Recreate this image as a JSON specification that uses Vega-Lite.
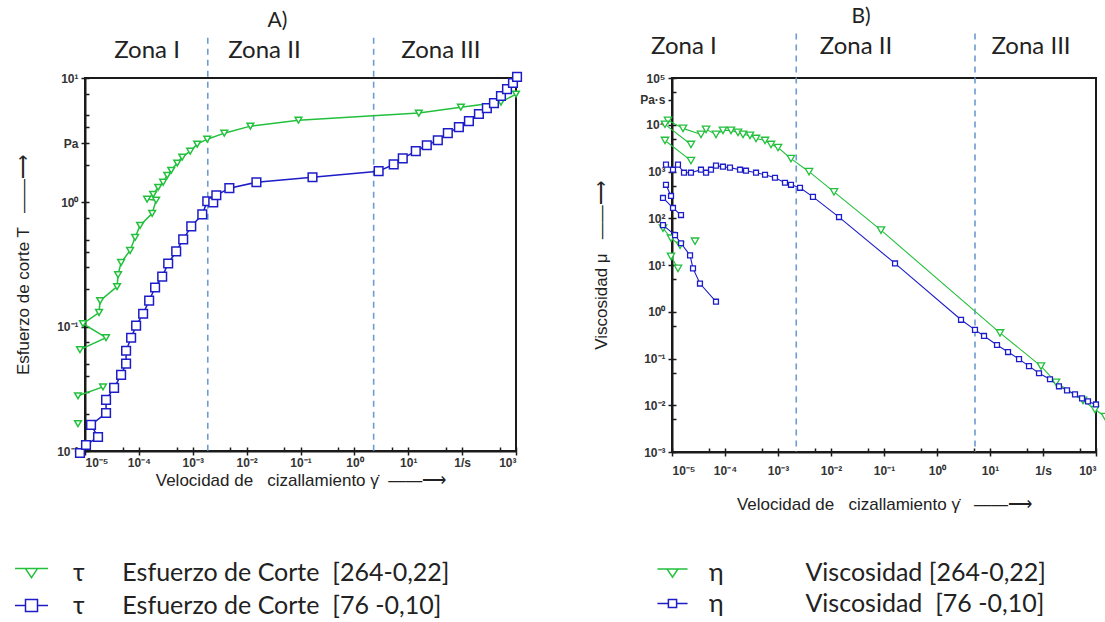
{
  "$schema": "https://vega.github.io/schema/vega-lite/v6.json",
  "padding": {"left": 13, "top": 4, "right": 4, "bottom": 2},
  "background": "white",
  "spacing": 65,
  "config": {
    "view": {"stroke": "#1a1a1a", "strokeWidth": 2},
    "axis": {"grid": false, "domainColor": "#1a1a1a", "domainWidth": 2, "tickColor": "#1a1a1a", "tickWidth": 1.5, "labelFont": "Liberation Sans", "labelFontSize": 12, "labelFontWeight": "bold", "labelColor": "#333333", "titleFont": "Liberation Sans", "titleFontSize": 17, "titleFontWeight": "normal", "titleColor": "#222222"},
    "title": {"font": "Lato", "fontSize": 21, "fontWeight": "normal", "color": "#222222"},
    "legend": {"labelFont": "Lato", "labelFontSize": 25, "labelColor": "#222222", "labelLimit": 800, "title": null}
  },
  "datasets": {
    "zonesA": [{"x": 0.0019}, {"x": 2.28}],
    "zonesB": [{"x": 0.00221}, {"x": 5.21}],
    "labelsA": [{"x": 0.000142, "label": "Zona I"}, {"x": 0.0214, "label": "Zona II"}, {"x": 40.3, "label": "Zona III"}],
    "labelsB": [{"x": 0.0000168, "label": "Zona I"}, {"x": 0.0296, "label": "Zona II"}, {"x": 59.4, "label": "Zona III"}],
    "tauA": [
      {"s": "g", "r": "g0", "i": 1, "x": 7.41e-6, "y": 0.0166},
      {"s": "g", "r": "ga", "i": 2, "x": 7.41e-6, "y": 0.0278},
      {"s": "g", "r": "ga", "i": 3, "x": 2.16e-5, "y": 0.0328},
      {"s": "g", "r": "g1", "i": 4, "x": 8.07e-6, "y": 0.0653},
      {"s": "g", "r": "g1", "i": 5, "x": 2.46e-5, "y": 0.0815},
      {"s": "g", "r": "g1", "i": 6, "x": 9.18e-6, "y": 0.1057},
      {"s": "g", "r": "g1", "i": 7, "x": 1.82e-5, "y": 0.130},
      {"s": "g", "r": "g1", "i": 8, "x": 1.91e-5, "y": 0.162},
      {"s": "g", "r": "g1", "i": 9, "x": 3.94e-5, "y": 0.210},
      {"s": "g", "r": "g1", "i": 10, "x": 4.11e-5, "y": 0.262},
      {"s": "g", "r": "g1", "i": 11, "x": 4.68e-5, "y": 0.328},
      {"s": "g", "r": "g1", "i": 12, "x": 6.87e-5, "y": 0.410},
      {"s": "g", "r": "g1", "i": 13, "x": 8.51e-5, "y": 0.522},
      {"s": "g", "r": "g1", "i": 14, "x": 1.054e-4, "y": 0.653},
      {"s": "g", "r": "g1", "i": 15, "x": 1.766e-4, "y": 0.815},
      {"s": "g", "r": "g1", "i": 16, "x": 2.09e-4, "y": 1.04},
      {"s": "g", "r": "g1", "i": 17, "x": 1.42e-4, "y": 1.06},
      {"s": "g", "r": "g1", "i": 18, "x": 1.84e-4, "y": 1.16},
      {"s": "g", "r": "g1", "i": 19, "x": 2.28e-4, "y": 1.32},
      {"s": "g", "r": "g1", "i": 20, "x": 2.82e-4, "y": 1.45},
      {"s": "g", "r": "g1", "i": 21, "x": 3.36e-4, "y": 1.65},
      {"s": "g", "r": "g1", "i": 22, "x": 3.98e-4, "y": 1.81},
      {"s": "g", "r": "g1", "i": 23, "x": 5.15e-4, "y": 2.07},
      {"s": "g", "r": "g1", "i": 24, "x": 6.38e-4, "y": 2.31},
      {"s": "g", "r": "g1", "i": 25, "x": 8.97e-4, "y": 2.58},
      {"s": "g", "r": "g1", "i": 26, "x": 1.21e-3, "y": 2.94},
      {"s": "g", "r": "g1", "i": 27, "x": 1.86e-3, "y": 3.22},
      {"s": "g", "r": "g1", "i": 28, "x": 3.85e-3, "y": 3.60},
      {"s": "g", "r": "g1", "i": 29, "x": 0.01175, "y": 4.10},
      {"s": "g", "r": "g1", "i": 30, "x": 0.0918, "y": 4.58},
      {"s": "g", "r": "g1", "i": 31, "x": 15.7, "y": 5.22},
      {"s": "g", "r": "g1", "i": 32, "x": 94.8, "y": 5.83},
      {"s": "g", "r": "g1", "i": 33, "x": 526, "y": 6.40},
      {"s": "g", "r": "g1", "i": 34, "x": 1000, "y": 7.43},
      {"s": "b", "r": "b1", "i": 1, "x": 8.07e-6, "y": 0.00964},
      {"s": "b", "r": "b1", "i": 2, "x": 1.044e-5, "y": 0.01117},
      {"s": "b", "r": "b1", "i": 3, "x": 1.746e-5, "y": 0.01297},
      {"s": "b", "r": "b1", "i": 4, "x": 1.294e-5, "y": 0.0162},
      {"s": "b", "r": "b1", "i": 5, "x": 2.46e-5, "y": 0.0202},
      {"s": "b", "r": "b1", "i": 6, "x": 2.46e-5, "y": 0.0258},
      {"s": "b", "r": "b1", "i": 7, "x": 3.47e-5, "y": 0.0322},
      {"s": "b", "r": "b1", "i": 8, "x": 4.68e-5, "y": 0.041},
      {"s": "b", "r": "b1", "i": 9, "x": 5.79e-5, "y": 0.0504},
      {"s": "b", "r": "b1", "i": 10, "x": 5.79e-5, "y": 0.064},
      {"s": "b", "r": "b1", "i": 11, "x": 7.18e-5, "y": 0.0815},
      {"s": "b", "r": "b1", "i": 12, "x": 8.89e-5, "y": 0.1019},
      {"s": "b", "r": "b1", "i": 13, "x": 1.2e-4, "y": 0.127},
      {"s": "b", "r": "b1", "i": 14, "x": 1.552e-4, "y": 0.162},
      {"s": "b", "r": "b1", "i": 15, "x": 2.0e-4, "y": 0.2065},
      {"s": "b", "r": "b1", "i": 16, "x": 2.71e-4, "y": 0.253},
      {"s": "b", "r": "b1", "i": 17, "x": 3.5e-4, "y": 0.322},
      {"s": "b", "r": "b1", "i": 18, "x": 4.93e-4, "y": 0.403},
      {"s": "b", "r": "b1", "i": 19, "x": 6.65e-4, "y": 0.504},
      {"s": "b", "r": "b1", "i": 20, "x": 9.38e-4, "y": 0.64},
      {"s": "b", "r": "b1", "i": 21, "x": 1.503e-3, "y": 0.80},
      {"s": "b", "r": "b1", "i": 22, "x": 1.86e-3, "y": 1.02},
      {"s": "b", "r": "b1", "i": 23, "x": 2.4e-3, "y": 1.0},
      {"s": "b", "r": "b1", "i": 24, "x": 2.74e-3, "y": 1.14},
      {"s": "b", "r": "b1", "i": 25, "x": 4.78e-3, "y": 1.30},
      {"s": "b", "r": "b1", "i": 26, "x": 0.0152, "y": 1.45},
      {"s": "b", "r": "b1", "i": 27, "x": 0.167, "y": 1.59},
      {"s": "b", "r": "b1", "i": 28, "x": 2.82, "y": 1.78},
      {"s": "b", "r": "b1", "i": 29, "x": 5.37, "y": 2.02},
      {"s": "b", "r": "b1", "i": 30, "x": 7.91, "y": 2.26},
      {"s": "b", "r": "b1", "i": 31, "x": 13.8, "y": 2.58},
      {"s": "b", "r": "b1", "i": 32, "x": 22.1, "y": 2.88},
      {"s": "b", "r": "b1", "i": 33, "x": 35.4, "y": 3.16},
      {"s": "b", "r": "b1", "i": 34, "x": 54.3, "y": 3.60},
      {"s": "b", "r": "b1", "i": 35, "x": 87.1, "y": 4.03},
      {"s": "b", "r": "b1", "i": 36, "x": 133.7, "y": 4.50},
      {"s": "b", "r": "b1", "i": 37, "x": 205, "y": 5.13},
      {"s": "b", "r": "b1", "i": 38, "x": 288, "y": 5.73},
      {"s": "b", "r": "b1", "i": 39, "x": 390, "y": 6.28},
      {"s": "b", "r": "b1", "i": 40, "x": 526, "y": 7.16},
      {"s": "b", "r": "b1", "i": 41, "x": 681, "y": 8.15},
      {"s": "b", "r": "b1", "i": 42, "x": 879, "y": 9.12},
      {"s": "b", "r": "b1", "i": 43, "x": 1045, "y": 10.2}
    ],
    "etaB": [
      {"s": "g", "r": "g1", "i": 1, "x": 8.41e-6, "y": 12450},
      {"s": "g", "r": "g1", "i": 2, "x": 1.614e-5, "y": 8360},
      {"s": "g", "r": "g1", "i": 3, "x": 3.52e-5, "y": 6210},
      {"s": "g", "r": "g1", "i": 4, "x": 4.39e-5, "y": 7960},
      {"s": "g", "r": "g1", "i": 5, "x": 6.76e-5, "y": 6210},
      {"s": "g", "r": "g1", "i": 6, "x": 9.16e-5, "y": 7570},
      {"s": "g", "r": "g1", "i": 7, "x": 1.297e-4, "y": 7570},
      {"s": "g", "r": "g1", "i": 8, "x": 1.758e-4, "y": 6855},
      {"s": "g", "r": "g1", "i": 9, "x": 2.19e-4, "y": 6210},
      {"s": "g", "r": "g1", "i": 10, "x": 2.96e-4, "y": 5916},
      {"s": "g", "r": "g1", "i": 11, "x": 3.85e-4, "y": 5093},
      {"s": "g", "r": "g1", "i": 12, "x": 5.69e-4, "y": 4613},
      {"s": "g", "r": "g1", "i": 13, "x": 7.38e-4, "y": 3784},
      {"s": "g", "r": "g1", "i": 14, "x": 1.0e-3, "y": 3258},
      {"s": "g", "r": "g1", "i": 15, "x": 1.758e-3, "y": 1888},
      {"s": "g", "r": "g1", "i": 16, "x": 3.85e-3, "y": 991},
      {"s": "g", "r": "g1", "i": 17, "x": 0.0114, "y": 367},
      {"s": "g", "r": "g1", "i": 18, "x": 0.0877, "y": 55.7},
      {"s": "g", "r": "g1", "i": 19, "x": 15.45, "y": 0.352},
      {"s": "g", "r": "g1", "i": 20, "x": 91.6, "y": 0.0686},
      {"s": "g", "r": "g1", "i": 21, "x": 175.8, "y": 0.031},
      {"s": "g", "r": "g1", "i": 22, "x": 569, "y": 0.01268},
      {"s": "g", "r": "g1", "i": 23, "x": 957, "y": 0.0081},
      {"s": "g", "r": "g1", "i": 24, "x": 1479, "y": 0.00574},
      {"s": "g", "r": "g2", "i": 1, "x": 7.38e-6, "y": 10210},
      {"s": "g", "r": "g2", "i": 2, "x": 2.28e-5, "y": 3784},
      {"s": "g", "r": "g3", "i": 1, "x": 7.38e-6, "y": 4613},
      {"s": "g", "r": "g3", "i": 2, "x": 2.28e-5, "y": 1710},
      {"s": "g", "r": "g4", "i": 1, "x": 6.76e-6, "y": 61.5},
      {"s": "g", "r": "g4", "i": 2, "x": 9.58e-6, "y": 37.4},
      {"s": "g", "r": "g4", "i": 3, "x": 1.416e-5, "y": 26.4},
      {"s": "g", "r": "g5", "i": 1, "x": 2.72e-5, "y": 32.3},
      {"s": "g", "r": "g6", "i": 1, "x": 9.58e-6, "y": 15.3},
      {"s": "g", "r": "g6", "i": 2, "x": 1.297e-5, "y": 8.45},
      {"s": "b", "r": "b1", "i": 1, "x": 7.7e-6, "y": 1403},
      {"s": "b", "r": "b1", "i": 2, "x": 1.044e-5, "y": 1094},
      {"s": "b", "r": "b1", "i": 3, "x": 1.297e-5, "y": 1403},
      {"s": "b", "r": "b1", "i": 4, "x": 1.683e-5, "y": 942},
      {"s": "b", "r": "b1", "i": 5, "x": 2.28e-5, "y": 942},
      {"s": "b", "r": "b1", "i": 6, "x": 3.52e-5, "y": 1094},
      {"s": "b", "r": "b1", "i": 7, "x": 4.39e-5, "y": 942},
      {"s": "b", "r": "b1", "i": 8, "x": 5.44e-5, "y": 1094},
      {"s": "b", "r": "b1", "i": 9, "x": 6.76e-5, "y": 1334},
      {"s": "b", "r": "b1", "i": 10, "x": 9.16e-5, "y": 1268},
      {"s": "b", "r": "b1", "i": 11, "x": 1.242e-4, "y": 1208},
      {"s": "b", "r": "b1", "i": 12, "x": 1.919e-4, "y": 1094},
      {"s": "b", "r": "b1", "i": 13, "x": 2.49e-4, "y": 1040},
      {"s": "b", "r": "b1", "i": 14, "x": 3.85e-4, "y": 942},
      {"s": "b", "r": "b1", "i": 15, "x": 5.69e-4, "y": 853},
      {"s": "b", "r": "b1", "i": 16, "x": 8.77e-4, "y": 735},
      {"s": "b", "r": "b1", "i": 17, "x": 1.355e-3, "y": 574},
      {"s": "b", "r": "b1", "i": 18, "x": 1.758e-3, "y": 520},
      {"s": "b", "r": "b1", "i": 19, "x": 2.6e-3, "y": 448},
      {"s": "b", "r": "b1", "i": 20, "x": 4.57e-3, "y": 286},
      {"s": "b", "r": "b1", "i": 21, "x": 0.01416, "y": 106},
      {"s": "b", "r": "b1", "i": 22, "x": 0.1614, "y": 10.8},
      {"s": "b", "r": "b1", "i": 23, "x": 2.84, "y": 0.673},
      {"s": "b", "r": "b1", "i": 24, "x": 5.21, "y": 0.409},
      {"s": "b", "r": "b1", "i": 25, "x": 7.71, "y": 0.304},
      {"s": "b", "r": "b1", "i": 26, "x": 13.56, "y": 0.1945},
      {"s": "b", "r": "b1", "i": 27, "x": 21.9, "y": 0.1374},
      {"s": "b", "r": "b1", "i": 28, "x": 35.3, "y": 0.097},
      {"s": "b", "r": "b1", "i": 29, "x": 54.4, "y": 0.0686},
      {"s": "b", "r": "b1", "i": 30, "x": 84.1, "y": 0.0484},
      {"s": "b", "r": "b1", "i": 31, "x": 135.5, "y": 0.036},
      {"s": "b", "r": "b1", "i": 32, "x": 200, "y": 0.0254},
      {"s": "b", "r": "b1", "i": 33, "x": 284, "y": 0.0208},
      {"s": "b", "r": "b1", "i": 34, "x": 402, "y": 0.0171},
      {"s": "b", "r": "b1", "i": 35, "x": 545, "y": 0.01403},
      {"s": "b", "r": "b1", "i": 36, "x": 706, "y": 0.01208},
      {"s": "b", "r": "b1", "i": 37, "x": 1000, "y": 0.0104},
      {"s": "b", "r": "b2", "i": 1, "x": 7.7e-6, "y": 520},
      {"s": "b", "r": "b2", "i": 2, "x": 9.58e-6, "y": 300},
      {"s": "b", "r": "b3", "i": 1, "x": 6.76e-6, "y": 272},
      {"s": "b", "r": "b3", "i": 2, "x": 1.044e-5, "y": 166},
      {"s": "b", "r": "b3", "i": 3, "x": 1.479e-5, "y": 117},
      {"s": "b", "r": "b4", "i": 1, "x": 6.76e-6, "y": 71.3},
      {"s": "b", "r": "b4", "i": 2, "x": 1.14e-5, "y": 43.5},
      {"s": "b", "r": "b4", "i": 3, "x": 1.479e-5, "y": 29.2},
      {"s": "b", "r": "b4", "i": 4, "x": 2.19e-5, "y": 16.1},
      {"s": "b", "r": "b4", "i": 5, "x": 2.49e-5, "y": 8.45},
      {"s": "b", "r": "b4", "i": 6, "x": 3.37e-5, "y": 4.01},
      {"s": "b", "r": "b4", "i": 7, "x": 6.76e-5, "y": 1.64}
    ]
  },
  "resolve": {"scale": {"color": "independent"}, "legend": {"color": "independent"}},
  "hconcat": [
    {
      "width": 431,
      "height": 373,
      "title": {"text": "A)", "dx": -23, "offset": 6},
      "resolve": {"axis": {"x": "independent", "y": "independent"}},
      "layer": [
        {
          "data": {"name": "zonesA"},
          "mark": {"type": "rule", "strokeDash": [6, 5], "color": "#6e9bd1", "strokeWidth": 1.6, "clip": false},
          "encoding": {
            "x": {"field": "x", "type": "quantitative", "scale": {"type": "log", "domain": [1e-5, 1000], "nice": false},
              "axis": {"orient": "bottom", "values": [1e-5, 5e-5, 1e-4, 5e-4, 1e-3, 5e-3, 1e-2, 5e-2, 0.1, 0.5, 1, 5, 10, 50, 100, 500, 1000], "labels": false, "domain": false, "tickSize": -4, "title": null}},
            "y": {"datum": 21.1, "type": "quantitative", "scale": {"type": "log", "domain": [0.01, 10], "nice": false},
              "axis": {"orient": "left", "values": [0.01, 0.02, 0.03, 0.04, 0.05, 0.075, 0.1, 0.2, 0.3, 0.4, 0.5, 0.75, 1, 2, 3, 4, 5, 7.5, 10], "labels": false, "domain": false, "tickSize": -4, "title": null}},
            "y2": {"datum": 0.01}
          }
        },
        {
          "data": {"name": "labelsA"},
          "mark": {"type": "text", "font": "Lato", "fontSize": 24, "color": "#222222", "baseline": "middle", "clip": false},
          "encoding": {
            "x": {"field": "x", "type": "quantitative", "axis": null},
            "y": {"datum": 16.6, "type": "quantitative", "axis": null},
            "text": {"field": "label"}
          }
        },
        {
          "data": {"name": "tauA"},
          "mark": {"type": "line", "strokeWidth": 1.5, "clip": false},
          "encoding": {
            "x": {"field": "x", "type": "quantitative",
              "axis": {"orient": "bottom", "values": [1e-5, 1e-4, 1e-3, 1e-2, 0.1, 1, 10, 100, 1000], "tickSize": 4, "labelPadding": 2, "labelExpr": "datum.value == 100 ? '1/s' : '10' + ['⁻⁵','⁻⁴','⁻³','⁻²','⁻¹','⁰','¹','²','³','⁴','⁵'][round(log(datum.value)/LN10) + 5]", "title": "Velocidad de\u00a0\u00a0\u00a0cizallamiento γ̇\u00a0\u00a0——⟶", "titlePadding": 4}},
            "y": {"field": "y", "type": "quantitative",
              "axis": {"orient": "left", "values": [0.01, 0.1, 1, 3, 10], "tickSize": 4, "labelPadding": 3, "labelExpr": "datum.value == 3 ? 'Pa' : '10' + ['⁻⁵','⁻⁴','⁻³','⁻²','⁻¹','⁰','¹','²','³','⁴','⁵'][round(log(datum.value)/LN10) + 5]", "title": "Esfuerzo de corte T\u00a0\u00a0\u00a0——⟶", "titlePadding": 24}},
            "color": {"field": "s", "type": "nominal", "scale": {"domain": ["g", "b"], "range": ["#22c03c", "#1c1cc8"]},
              "legend": {"orient": "none", "legendX": -66, "legendY": 482, "direction": "vertical", "symbolSize": 36, "symbolStrokeWidth": 1.5, "labelOffset": 29, "rowPadding": 7,
                "labelExpr": "datum.value == 'g' ? 'τ\u2003\u2002\u00a0Esfuerzo de Corte\u00a0\u00a0[264-0,22]' : 'τ\u2003\u2002\u00a0Esfuerzo de Corte\u00a0\u00a0[76 -0,10]'",
                "encode": {"symbols": {"update": {"shape": {"signal": "datum.value == 'g' ? 'M-5.5,-1.3H5.5M-2,-1.3L0,1.7L2,-1.3Z' : 'M-5.5,0H-2M2,0H5.5M-2,-2H2V2H-2Z'"}, "fill": {"value": "white"}, "fillOpacity": {"value": 1}}}}}},
            "detail": {"field": "r"},
            "order": {"field": "i"}
          }
        },
        {
          "data": {"name": "tauA"},
          "transform": [{"filter": "datum.s == 'g'"}],
          "mark": {"type": "point", "shape": "triangle-down", "size": 45, "stroke": "#22c03c", "fill": "white", "fillOpacity": 1, "strokeWidth": 1.5, "opacity": 1, "clip": false},
          "encoding": {
            "x": {"field": "x", "type": "quantitative", "axis": null},
            "y": {"field": "y", "type": "quantitative", "axis": null}
          }
        },
        {
          "data": {"name": "tauA"},
          "transform": [{"filter": "datum.s == 'b'"}],
          "mark": {"type": "point", "shape": "square", "size": 75, "stroke": "#1c1cc8", "fill": "white", "fillOpacity": 1, "strokeWidth": 1.5, "opacity": 1, "clip": false},
          "encoding": {
            "x": {"field": "x", "type": "quantitative", "axis": null},
            "y": {"field": "y", "type": "quantitative", "axis": null}
          }
        }
      ]
    },
    {
      "width": 424,
      "height": 374,
      "title": {"text": "B)", "dx": -23, "offset": 6},
      "resolve": {"axis": {"x": "independent", "y": "independent"}},
      "layer": [
        {
          "data": {"name": "zonesB"},
          "mark": {"type": "rule", "strokeDash": [6, 5], "color": "#6e9bd1", "strokeWidth": 1.6, "clip": false},
          "encoding": {
            "x": {"field": "x", "type": "quantitative", "scale": {"type": "log", "domain": [1e-5, 1000], "nice": false},
              "axis": {"orient": "bottom", "values": [1e-5, 5e-5, 1e-4, 5e-4, 1e-3, 5e-3, 1e-2, 5e-2, 0.1, 0.5, 1, 5, 10, 50, 100, 500, 1000], "labels": false, "domain": false, "tickSize": -4, "title": null}},
            "y": {"datum": 900000, "type": "quantitative", "scale": {"type": "log", "domain": [0.001, 100000], "nice": false},
              "axis": {"orient": "left", "values": [0.001, 0.005, 0.01, 0.05, 0.1, 0.5, 1, 5, 10, 50, 100, 500, 1000, 5000, 10000, 50000, 100000], "labels": false, "domain": false, "tickSize": -4, "title": null}},
            "y2": {"datum": 0.001}
          }
        },
        {
          "data": {"name": "labelsB"},
          "mark": {"type": "text", "font": "Lato", "fontSize": 24, "color": "#222222", "baseline": "middle", "clip": false},
          "encoding": {
            "x": {"field": "x", "type": "quantitative", "axis": null},
            "y": {"datum": 470000, "type": "quantitative", "axis": null},
            "text": {"field": "label"}
          }
        },
        {
          "data": {"name": "etaB"},
          "mark": {"type": "line", "strokeWidth": 1.1, "clip": false},
          "encoding": {
            "x": {"field": "x", "type": "quantitative",
              "axis": {"orient": "bottom", "values": [1e-5, 1e-4, 1e-3, 1e-2, 0.1, 1, 10, 100, 1000], "tickSize": 4, "labelPadding": 9, "labelExpr": "datum.value == 100 ? '1/s' : '10' + ['⁻⁵','⁻⁴','⁻³','⁻²','⁻¹','⁰','¹','²','³','⁴','⁵'][round(log(datum.value)/LN10) + 5]", "title": "Velocidad de\u00a0\u00a0\u00a0cizallamiento γ̇\u00a0\u00a0\u00a0——⟶", "titlePadding": 20}},
            "y": {"field": "y", "type": "quantitative",
              "axis": {"orient": "left", "values": [0.001, 0.01, 0.1, 1, 10, 100, 1000, 10000, 34000, 100000], "tickSize": 4, "labelPadding": 3, "labelExpr": "datum.value == 34000 ? 'Pa·s' : '10' + ['⁻⁵','⁻⁴','⁻³','⁻²','⁻¹','⁰','¹','²','³','⁴','⁵'][round(log(datum.value)/LN10) + 5]", "title": "Viscosidad μ\u00a0\u00a0\u00a0——⟶", "titlePadding": 29}},
            "color": {"field": "s", "type": "nominal", "scale": {"domain": ["g", "b"], "range": ["#22c03c", "#1c1cc8"]},
              "legend": {"orient": "none", "legendX": -12, "legendY": 482, "direction": "vertical", "symbolSize": 30, "symbolStrokeWidth": 1.5, "labelOffset": 24, "rowPadding": 5,
                "labelExpr": "datum.value == 'g' ? 'η\u2003\u2003\u2003\u00a0\u00a0\u00a0\u00a0Viscosidad [264-0,22]' : 'η\u2003\u2003\u2003\u00a0\u00a0\u00a0\u00a0Viscosidad\u00a0\u00a0[76 -0,10]'",
                "encode": {"symbols": {"update": {"shape": {"signal": "datum.value == 'g' ? 'M-5.5,-1.3H5.5M-2,-1.3L0,1.7L2,-1.3Z' : 'M-5.5,0H-1.5M1.5,0H5.5M-1.5,-1.5H1.5V1.5H-1.5Z'"}, "fill": {"value": "white"}, "fillOpacity": {"value": 1}}}}}},
            "detail": {"field": "r"},
            "order": {"field": "i"}
          }
        },
        {
          "data": {"name": "etaB"},
          "transform": [{"filter": "datum.s == 'g'"}],
          "mark": {"type": "point", "shape": "triangle-down", "size": 55, "stroke": "#22c03c", "fill": "white", "fillOpacity": 1, "strokeWidth": 1.3, "opacity": 1, "clip": false},
          "encoding": {
            "x": {"field": "x", "type": "quantitative", "axis": null},
            "y": {"field": "y", "type": "quantitative", "axis": null}
          }
        },
        {
          "data": {"name": "etaB"},
          "transform": [{"filter": "datum.s == 'b'"}],
          "mark": {"type": "point", "shape": "square", "size": 24, "stroke": "#1c1cc8", "fill": "white", "fillOpacity": 1, "strokeWidth": 1.3, "opacity": 1, "clip": false},
          "encoding": {
            "x": {"field": "x", "type": "quantitative", "axis": null},
            "y": {"field": "y", "type": "quantitative", "axis": null}
          }
        }
      ]
    }
  ]
}
